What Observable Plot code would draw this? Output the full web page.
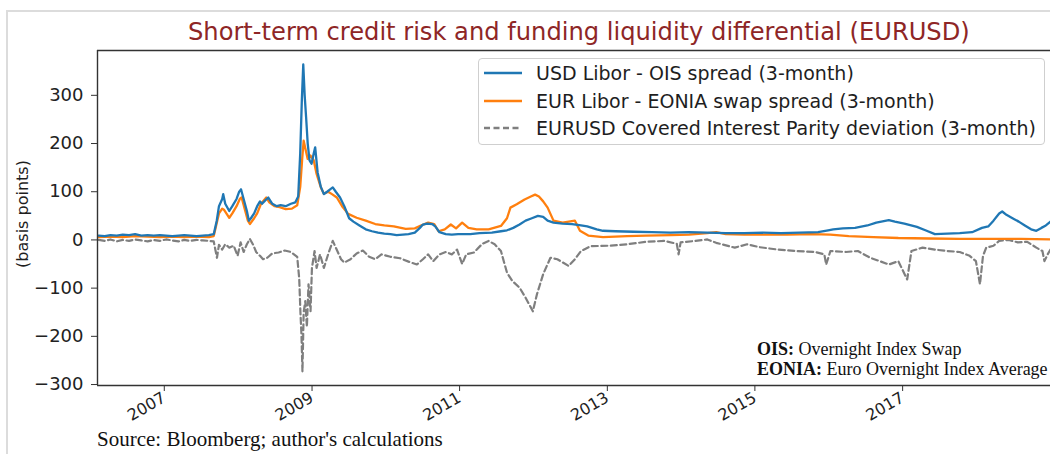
<!DOCTYPE html>
<html><head><meta charset="utf-8">
<script src="https://cdn.jsdelivr.net/npm/d3@7"></script>
<script src="https://cdn.jsdelivr.net/npm/@observablehq/plot@0.6"></script>
<style>
html,body{margin:0;padding:0;background:#fff;}
#wrap{position:relative;width:1050px;height:454px;overflow:hidden;font-family:"DejaVu Sans",sans-serif;color:#1e1e1e;}
#border{position:absolute;left:6px;top:10px;width:1100px;height:500px;border-left:2px solid #dcdcdc;border-top:2px solid #dcdcdc;}
#chart{position:absolute;left:0;top:0;}
#title{position:absolute;left:188px;top:18px;transform-origin:0 0;white-space:nowrap;font-family:"DejaVu Sans Condensed","DejaVu Sans",sans-serif;font-size:25px;line-height:28px;color:#8e2626;}
#ylabel{position:absolute;left:22px;top:214px;transform:translate(-50%,-50%) rotate(-90deg);white-space:nowrap;font-size:16px;}
#legend{position:absolute;left:478px;top:58px;width:567px;height:87px;box-sizing:border-box;border:1px solid #cfcfcf;border-radius:4px;background:rgba(255,255,255,0.85);}
.row{position:absolute;left:0;height:22px;display:flex;align-items:center;white-space:nowrap;font-size:19px;}
.row svg{margin-left:5px;margin-right:14px;}
#note{position:absolute;left:757px;top:339px;font-family:"Liberation Serif","Times New Roman",serif;font-size:18px;line-height:20px;white-space:nowrap;color:#111;}
#source{position:absolute;left:97px;top:428px;font-family:"Liberation Serif","Times New Roman",serif;font-size:21px;line-height:22px;white-space:nowrap;color:#111;}
</style></head><body>
<div id="wrap">
  <div id="border"></div>
  <div id="chart"></div>
  <div id="title">Short-term credit risk and funding liquidity differential (EURUSD)</div>
  <div id="ylabel">(basis points)</div>
  <div id="legend"></div>
  <div id="note"><div><b>OIS:</b> Overnight Index Swap</div><div><b>EONIA:</b> Euro Overnight Index Average</div></div>
  <div id="source">Source: Bloomberg; author's calculations</div>
</div>
<script>
// ---- data (basis points) ----
const seriesNames = [
  "USD Libor - OIS spread (3-month)",
  "EUR Libor - EONIA swap spread (3-month)",
  "EURUSD Covered Interest Parity deviation (3-month)"
];
const seriesColors = ["#1f77b4", "#ff7f0e", "#7f7f7f"];

const usdDates = ["2006-01-02","2006-02-01","2006-03-01","2006-04-01","2006-05-01","2006-06-01","2006-07-01","2006-08-01","2006-09-01","2006-10-01","2006-11-01","2006-12-01","2007-01-01","2007-02-01","2007-03-01","2007-04-01","2007-05-01","2007-06-01","2007-07-01","2007-07-25","2007-08-09","2007-08-20","2007-09-05","2007-09-10","2007-09-20","2007-10-10","2007-10-25","2007-11-15","2007-11-28","2007-12-07","2007-12-20","2008-01-05","2008-01-15","2008-01-25","2008-02-10","2008-02-25","2008-03-10","2008-03-20","2008-04-05","2008-04-20","2008-05-10","2008-06-01","2008-06-20","2008-07-15","2008-08-10","2008-09-01","2008-09-15","2008-09-25","2008-10-03","2008-10-10","2008-10-17","2008-10-24","2008-11-01","2008-11-10","2008-11-20","2008-12-01","2008-12-08","2008-12-20","2009-01-05","2009-01-20","2009-02-05","2009-02-20","2009-03-05","2009-03-20","2009-04-10","2009-05-01","2009-05-25","2009-06-15","2009-07-15","2009-08-15","2009-09-15","2009-10-15","2009-11-15","2009-12-15","2010-01-15","2010-02-15","2010-03-15","2010-04-15","2010-05-10","2010-05-25","2010-06-15","2010-07-10","2010-07-25","2010-08-15","2010-09-15","2010-10-15","2010-11-15","2010-12-15","2011-01-15","2011-03-01","2011-05-01","2011-06-15","2011-07-15","2011-08-15","2011-09-15","2011-10-15","2011-11-15","2011-12-15","2012-01-10","2012-02-01","2012-03-01","2012-04-15","2012-06-01","2012-07-15","2012-08-15","2012-10-01","2012-11-01","2013-01-01","2013-04-01","2013-07-01","2013-10-01","2014-01-01","2014-04-01","2014-07-01","2014-10-01","2015-01-01","2015-04-01","2015-07-01","2015-10-01","2015-11-20","2015-12-15","2016-02-01","2016-04-01","2016-06-01","2016-07-15","2016-09-15","2016-10-15","2016-12-01","2017-02-01","2017-03-15","2017-05-01","2017-07-01","2017-09-01","2017-11-01","2017-12-20","2018-01-20","2018-02-15","2018-03-15","2018-03-30","2018-04-20","2018-05-20","2018-06-20","2018-07-20","2018-08-20","2018-09-15","2018-10-10","2018-11-01","2018-11-24"];
const usdValues = [9,8,10,9,11,10,12,9,10,9,10,9,8,9,10,9,8,9,10,12,40,70,85,95,75,60,70,85,100,105,85,60,40,45,55,70,80,75,82,88,75,70,72,70,75,78,90,180,290,364,300,255,200,165,158,180,192,140,110,95,100,105,109,100,88,70,45,38,30,22,18,15,13,12,10,11,12,15,25,32,34,33,28,16,12,11,12,12,12,14,15,18,20,25,32,40,45,50,48,40,36,34,33,30,28,22,19,18,17,16,15,16,15,14,14,15,14,15,16,20,22,24,25,30,36,41,38,34,27,20,12,13,14,16,25,28,40,55,59,52,45,38,30,22,19,25,30,38];

const eurDates = ["2006-01-02","2006-03-01","2006-05-01","2006-07-01","2006-09-01","2006-11-01","2007-01-01","2007-03-01","2007-05-01","2007-07-01","2007-07-25","2007-08-09","2007-08-20","2007-09-05","2007-09-15","2007-10-10","2007-10-25","2007-11-15","2007-12-01","2007-12-10","2007-12-25","2008-01-10","2008-01-20","2008-02-10","2008-02-25","2008-03-15","2008-04-10","2008-04-25","2008-05-20","2008-06-15","2008-07-15","2008-08-15","2008-09-10","2008-09-25","2008-10-05","2008-10-12","2008-10-20","2008-11-01","2008-11-15","2008-12-01","2008-12-15","2009-01-05","2009-01-20","2009-02-10","2009-03-01","2009-03-25","2009-04-20","2009-05-20","2009-07-01","2009-08-15","2009-10-01","2009-11-15","2010-01-01","2010-03-01","2010-04-15","2010-05-15","2010-06-20","2010-07-20","2010-08-10","2010-09-10","2010-10-10","2010-11-05","2010-12-05","2011-01-05","2011-02-15","2011-04-15","2011-06-15","2011-07-15","2011-08-01","2011-09-01","2011-10-10","2011-11-10","2011-12-01","2011-12-20","2012-01-10","2012-02-01","2012-03-01","2012-04-15","2012-06-15","2012-07-10","2012-08-20","2012-11-01","2013-03-01","2013-06-01","2013-10-01","2014-01-01","2014-04-01","2014-05-15","2014-07-01","2014-10-01","2015-01-01","2015-05-01","2015-09-01","2015-12-01","2016-03-01","2016-07-01","2016-11-01","2017-04-01","2017-09-01","2018-02-01","2018-07-01","2018-11-24"];
const eurValues = [6,7,6,8,7,6,7,6,7,6,8,35,55,65,62,46,55,70,85,88,65,40,33,45,55,75,88,78,70,68,64,65,72,110,170,206,190,168,175,165,137,109,96,100,95,88,70,54,46,40,33,30,28,23,24,30,36,33,18,22,32,24,36,25,22,22,29,45,67,74,84,90,94,90,80,67,40,36,40,19,9,6,8,9,10,11,14,16,12,11,11,11,12,11,8,6,4,3,2,2,2,1];

const cipDates = ["2006-01-02","2006-02-01","2006-03-01","2006-04-01","2006-05-01","2006-06-01","2006-07-01","2006-08-01","2006-09-01","2006-10-01","2006-11-01","2006-12-01","2007-01-01","2007-02-01","2007-03-01","2007-04-01","2007-05-01","2007-06-01","2007-07-01","2007-07-25","2007-08-10","2007-08-20","2007-09-05","2007-09-20","2007-10-10","2007-11-01","2007-11-20","2007-12-05","2007-12-20","2008-01-05","2008-01-20","2008-02-05","2008-02-20","2008-03-10","2008-03-25","2008-04-15","2008-05-10","2008-06-10","2008-07-10","2008-08-10","2008-09-10","2008-09-20","2008-09-26","2008-10-01","2008-10-06","2008-10-12","2008-10-20","2008-10-28","2008-11-05","2008-11-15","2008-11-22","2008-12-05","2008-12-15","2009-01-01","2009-01-20","2009-02-10","2009-03-05","2009-03-20","2009-04-15","2009-05-01","2009-06-01","2009-07-01","2009-08-01","2009-09-01","2009-10-01","2009-11-01","2009-12-15","2010-02-01","2010-03-15","2010-04-25","2010-05-25","2010-06-20","2010-07-15","2010-08-15","2010-09-15","2010-10-15","2010-11-10","2010-12-05","2010-12-25","2011-02-01","2011-03-15","2011-04-15","2011-05-15","2011-06-15","2011-07-15","2011-08-10","2011-09-15","2011-10-15","2011-11-20","2011-12-10","2012-01-10","2012-02-15","2012-03-20","2012-05-15","2012-06-15","2012-07-15","2012-09-01","2012-12-01","2013-03-01","2013-06-01","2013-09-01","2013-11-01","2013-11-10","2013-11-20","2014-02-01","2014-04-01","2014-05-15","2014-08-15","2014-10-15","2014-12-15","2015-03-15","2015-06-15","2015-09-15","2015-11-01","2015-11-10","2015-12-01","2016-02-15","2016-04-15","2016-06-15","2016-08-01","2016-09-15","2016-11-01","2016-12-15","2017-01-05","2017-03-01","2017-05-01","2017-07-01","2017-09-01","2017-10-20","2017-11-20","2017-12-10","2017-12-25","2018-01-10","2018-02-15","2018-03-15","2018-05-01","2018-06-15","2018-08-01","2018-09-15","2018-10-15","2018-10-25","2018-11-10","2018-11-24"];
const cipValues = [0,-2,1,-3,0,-2,1,-1,-3,0,-2,1,-1,-3,0,-2,0,-1,-2,-3,-37,-10,-20,-9,-16,-12,-33,-5,-25,-9,2,-10,-25,-33,-40,-37,-28,-26,-22,-25,-35,-80,-150,-196,-273,-150,-127,-180,-92,-148,-58,-23,-58,-30,-58,-30,-2,-16,-40,-47,-40,-28,-22,-35,-40,-30,-35,-38,-45,-51,-40,-30,-44,-30,-25,-30,-20,-50,-30,-26,-8,-2,-9,-23,-68,-85,-99,-120,-148,-113,-71,-37,-40,-54,-40,-23,-13,-12,-9,-4,-2,-8,-30,-5,-2,1,-6,-16,-9,-15,-20,-23,-25,-30,-51,-23,-25,-23,-37,-44,-51,-44,-82,-23,-16,-20,-23,-25,-33,-44,-92,-33,-16,-12,-2,0,-5,-4,-16,-23,-44,-30,-20];

const yTicks = [-300, -200, -100, 0, 100, 200, 300];
const xTickYears = ["2007", "2009", "2011", "2013", "2015", "2017"];
const xDomainDates = ["2005-12-27", "2018-11-24"];
const yDomain = [-302, 393];

// ---- build tables ----
const toRows = (dates, values, name) => dates.map((d, i) => ({date: new Date(d + "T00:00:00Z"), value: values[i], series: name}));
const usd = toRows(usdDates, usdValues, seriesNames[0]);
const eur = toRows(eurDates, eurValues, seriesNames[1]);
const cip = toRows(cipDates, cipValues, seriesNames[2]);
const xDomain = xDomainDates.map(d => new Date(d + "T00:00:00Z"));
const xTicks = xTickYears.map(y => new Date(y + "-01-01T00:00:00Z"));
const fmtY = d3.format("d");

const chart = Plot.plot({
  width: 1050,
  height: 454,
  marginLeft: 97,
  marginRight: 0,
  marginTop: 50,
  marginBottom: 69,
  style: {fontFamily: "DejaVu Sans, sans-serif", fontSize: "15px", color: "#222", background: "transparent"},
  x: {type: "utc", domain: xDomain},
  y: {domain: yDomain},
  marks: [
    Plot.lineY(cip, {x: "date", y: "value", stroke: seriesColors[2], strokeWidth: 2.2, strokeDasharray: "6,3.5", clip: true}),
    Plot.lineY(eur, {x: "date", y: "value", stroke: seriesColors[1], strokeWidth: 2.3, clip: true}),
    Plot.lineY(usd, {x: "date", y: "value", stroke: seriesColors[0], strokeWidth: 2.3, clip: true}),
    Plot.ruleX([xDomain[0]], {stroke: "#333", strokeWidth: 1.4}),
    Plot.ruleY([yDomain[0], yDomain[1]], {stroke: "#333", strokeWidth: 1.4}),
    Plot.axisY({ticks: yTicks, tickSize: 6, tickPadding: 8, tickFormat: d => fmtY(d).replace("-", "\u2212"), label: null, stroke: "#333", fontSize: 18}),
    Plot.axisX({ticks: xTicks, tickFormat: d3.utcFormat("%Y"), tickRotate: -30, tickSize: 6, tickPadding: 5, dx: -8, label: null, stroke: "#333", fontSize: 16})
  ]
});
document.getElementById("chart").appendChild(chart);

// ---- title: fit to the reference width ----
const title = document.getElementById("title");
title.style.transform = `scaleX(${782 / title.offsetWidth})`;

// ---- legend ----
const legend = document.getElementById("legend");
const rowTops = [3, 31, 58];
seriesNames.forEach((name, i) => {
  const row = document.createElement("div");
  row.className = "row";
  row.style.top = rowTops[i] + "px";
  const dash = i === 2 ? ' stroke-dasharray="6,3.5"' : "";
  row.innerHTML = `<svg width="38" height="22"><line x1="0" y1="11" x2="38" y2="11" stroke="${seriesColors[i]}" stroke-width="2.4"${dash}/></svg><span>${name}</span>`;
  legend.appendChild(row);
});
</script>
</body></html>
